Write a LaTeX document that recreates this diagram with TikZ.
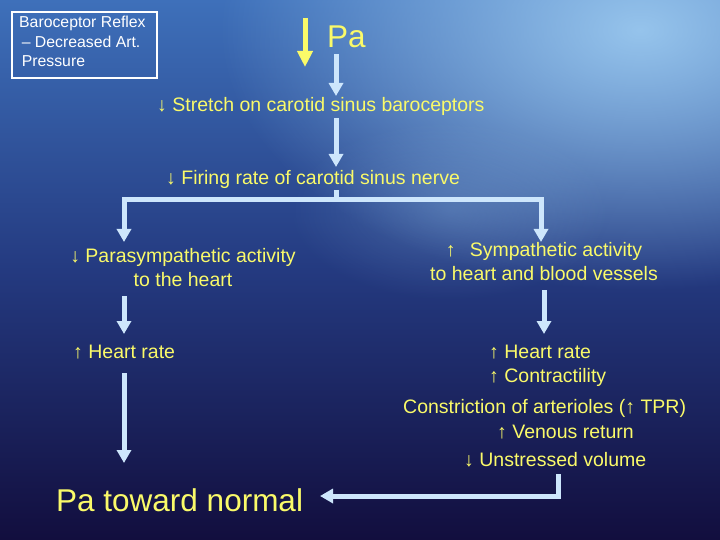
\documentclass[tikz,border=0pt]{standalone}
\usepackage{fontspec}
\setmainfont{Liberation Sans}
\usetikzlibrary{arrows.meta,fadings}
\definecolor{txt}{RGB}{250,250,105}
\definecolor{arr}{RGB}{205,230,252}
\definecolor{bgtop}{RGB}{62,112,186}
\definecolor{bgmid}{RGB}{36,58,128}
\definecolor{bgbot}{RGB}{18,14,62}
\definecolor{glow}{RGB}{150,196,236}
\tikzfading[name=glowfade, inner color=transparent!0, outer color=transparent!100]
\begin{document}
\begin{tikzpicture}[x=1pt,y=-1pt,
  lbl/.style={text=txt, font=\fontsize{19.5}{24}\selectfont, inner sep=0pt, anchor=west},
  lblc/.style={text=txt, font=\fontsize{19.5}{24}\selectfont, inner sep=0pt, align=center},
  big/.style={text=txt, font=\fontsize{31.5}{34}\selectfont, inner sep=0pt, anchor=west},
  flow/.style={draw=arr, line width=5pt, -{Triangle[width=14pt,length=13pt]}},
  flowline/.style={draw=arr, line width=5pt},
  hot/.style={draw=txt, line width=5pt, -{Triangle[width=15pt,length=16pt]}}]
\useasboundingbox (0,0) rectangle (720,540);
% background
\shade[top color=bgtop, bottom color=bgbot, middle color=bgmid] (0,0) rectangle (720,540);
\fill[glow, path fading=glowfade] (640,30) ellipse [x radius=420, y radius=260];
\fill[glow, opacity=0.25, path fading=glowfade] (450,210) ellipse [x radius=160, y radius=90];
% title box
\node[draw=white, line width=1.6pt, minimum width=145pt, minimum height=66pt, inner sep=0pt] (box) at (84.5,45) {};
\node[text=white, font=\fontsize{15.8}{19.5}\selectfont, align=left, anchor=north west, inner sep=0pt] (boxtxt) at (19,16) {Baroceptor Reflex\\ \,– Decreased Art.\\ \,Pressure};
% top
\coordinate (y1) at (305,18);
\coordinate (y2) at (305,67);
\draw[hot] (y1) -- (y2);
\node[big] (pa) at (327,37) {Pa};
\node[lbl] (stretch) at (157,106) {↓ Stretch on carotid sinus baroceptors};
\node[lbl] (firing) at (166,179) {↓ Firing rate of carotid sinus nerve};
\coordinate (a1s) at (336,54);
\coordinate (a1e) at (336,96);
\draw[flow] (a1s) -- (a1e);
\coordinate (a2s) at (336,118);
\coordinate (a2e) at (336,167);
\draw[flow] (a2s) -- (a2e);
% branch
\coordinate (bs) at (336,190);
\coordinate (bc) at (336,200);
\coordinate (bl) at (124,200);
\coordinate (br) at (541,200);
\coordinate (ble) at (124,242);
\coordinate (bre) at (541,242);
\draw[flowline] (bs) -- (bc);
\draw[flow] (bc) -- (bl) -- (ble);
\draw[flow] (bc) -- (br) -- (bre);
\node[lblc] (para) at (183,268) {↓ Parasympathetic activity\\to the heart};
\node[lblc] (symp) at (544,262) {↑\;\, Sympathetic activity\\to heart and blood vessels};
\coordinate (p1s) at (124,296);
\coordinate (p1e) at (124,334);
\draw[flow] (p1s) -- (p1e);
\coordinate (s1s) at (544,290);
\coordinate (s1e) at (544,334);
\draw[flow] (s1s) -- (s1e);
\node[lbl] (hrl) at (73,352) {↑ Heart rate};
\coordinate (p2s) at (124,373);
\coordinate (p2e) at (124,463);
\draw[flow] (p2s) -- (p2e);
\node[big] (norm) at (56,500) {Pa toward normal};
% right column
\node[lbl] (hrr) at (489,352) {↑ Heart rate};
\node[lbl] (con) at (489,377) {↑ Contractility};
\node[lbl] (arter) at (403,408) {Constriction of arterioles (↑ TPR)};
\node[lbl] (ven) at (497,432) {↑ Venous return};
\node[lbl] (uns) at (464,460) {↓ Unstressed volume};
\coordinate (rs) at (558,474);
\coordinate (rc) at (558,496);
\coordinate (re) at (320,496);
\draw[flow] (rs) -- (rc) -- (re);
\end{tikzpicture}
\end{document}
